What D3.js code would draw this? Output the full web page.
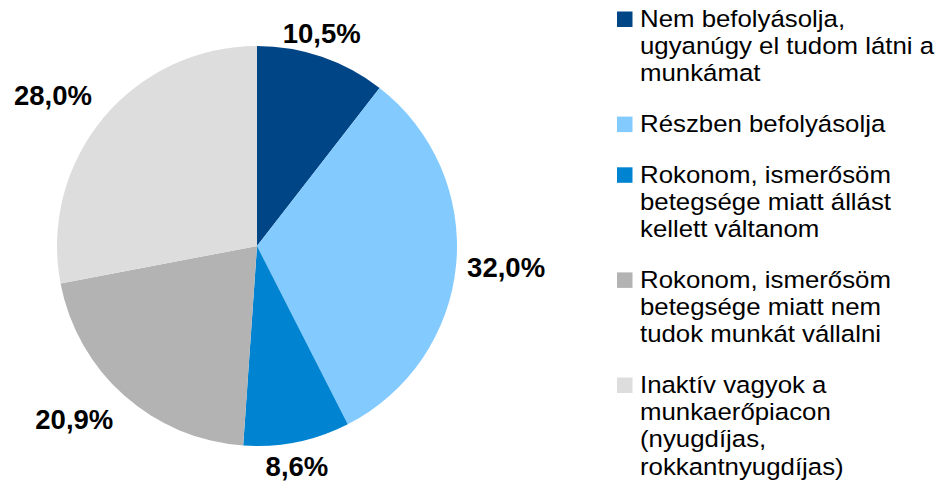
<!DOCTYPE html>
<html>
<head>
<meta charset="utf-8">
<script src="https://cdn.jsdelivr.net/npm/d3@7/dist/d3.min.js"></script>
<style>
  html, body { margin: 0; padding: 0; background: #ffffff; }
  svg { display: block; }
</style>
</head>
<body>
<svg id="chart" width="945" height="492"></svg>
<script>
// ---- data ----
const categories = [
  "Nem befolyásolja, ugyanúgy el tudom látni a munkámat",
  "Részben befolyásolja",
  "Rokonom, ismerősöm betegsége miatt állást kellett váltanom",
  "Rokonom, ismerősöm betegsége miatt nem tudok munkát vállalni",
  "Inaktív vagyok a munkaerőpiacon (nyugdíjas, rokkantnyugdíjas)"
];
const legendLines = [
  ["Nem befolyásolja,", "ugyanúgy el tudom látni a", "munkámat"],
  ["Részben befolyásolja"],
  ["Rokonom, ismerősöm", "betegsége miatt állást", "kellett váltanom"],
  ["Rokonom, ismerősöm", "betegsége miatt nem", "tudok munkát vállalni"],
  ["Inaktív vagyok a", "munkaerőpiacon", "(nyugdíjas,", "rokkantnyugdíjas)"]
];
const values = [10.5, 32.0, 8.6, 20.9, 28.0];
const colors = ["#004586", "#83CAFF", "#0084D1", "#B3B3B3", "#DDDDDD"];

// ---- layout ----
const svg = d3.select("#chart");
const cx = 257, cy = 246, R = 200;
const font = "'Liberation Sans', Arial, Helvetica, sans-serif";

const pie = d3.pie().sort(null).value(d => d)(values);
const arc = d3.arc().innerRadius(0).outerRadius(R);
const color = d3.scaleOrdinal().domain(d3.range(values.length)).range(colors);

const g = svg.append("g").attr("transform", `translate(${cx},${cy})`);
g.selectAll("path.slice")
  .data(pie)
  .join("path")
  .attr("class", "slice")
  .attr("d", arc)
  .attr("fill", (d, i) => color(i));

// labels (outside end)
const fmt = v => d3.format(".1f")(v).replace(".", ",") + "%";
const labelSize = 27.5;
const capH = labelSize * 0.716;
const step = t => Math.sign(t) * Math.max(0, Math.min(1, (Math.abs(t) - 0.4) / 0.2));
const labels = g.selectAll("text.lbl")
  .data(pie)
  .join("text")
  .attr("class", "lbl")
  .attr("font-family", font)
  .attr("font-weight", "bold")
  .attr("font-size", labelSize)
  .attr("fill", "#000")
  .attr("text-anchor", "middle")
  .text(d => fmt(d.data));
labels.each(function(d) {
  const w = this.getComputedTextLength();
  const a = (d.startAngle + d.endAngle) / 2;
  const s = Math.sin(a), c = Math.cos(a);
  const ax = R * s, ay = -R * c;
  const x = ax + step(s) * (w / 2 + 11);
  const y = ay - step(c) * (capH / 2 + 14) + (Math.abs(step(c)) < 1 ? -c * (capH / 2 + 14) * (1 - Math.abs(step(c))) : 0);
  d3.select(this).attr("x", x).attr("y", y + capH / 2);
});

// legend
const legendFont = 23.3;
const stretch = 1.108;
const lineH = 27.2;
const entryGap = 50.7;
const legendX = 617, textX = 640, sq = 15.5;
let baseline = 27;
const legend = svg.append("g");
legendLines.forEach((lines, i) => {
  legend.append("rect")
    .attr("x", legendX)
    .attr("y", baseline - sq)
    .attr("width", sq)
    .attr("height", sq)
    .attr("fill", color(i));
  const t = legend.append("text")
    .attr("transform", `translate(${textX},0) scale(${stretch},1)`)
    .attr("font-family", font)
    .attr("font-size", legendFont)
    .attr("fill", "#000");
  lines.forEach((ln, j) => {
    t.append("tspan").attr("x", 0).attr("y", baseline + j * lineH).text(ln);
  });
  baseline += (lines.length - 1) * lineH + entryGap;
});
</script>
</body>
</html>
